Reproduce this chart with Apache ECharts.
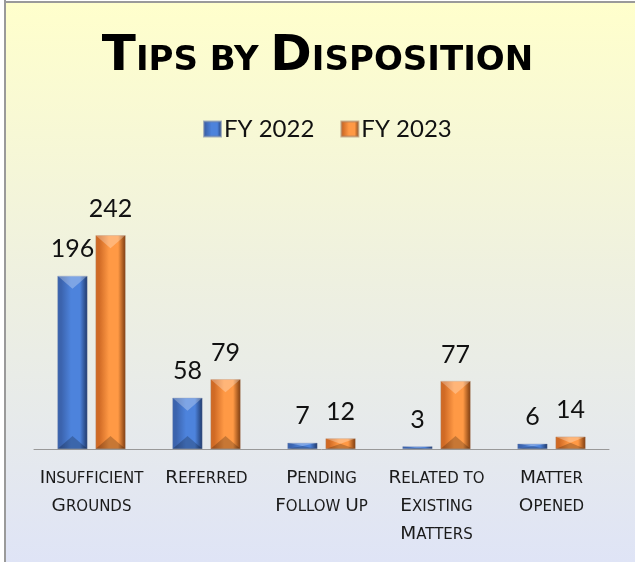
<!DOCTYPE html>
<html>
<head>
<meta charset="utf-8">
<script src="https://cdn.jsdelivr.net/npm/echarts@6/dist/echarts.min.js"></script>
<style>
html,body{margin:0;padding:0;background:#fff;}
#c{width:635px;height:562px;}
</style>
</head>
<body>
<div id="c"></div>
<script>
const categories = ['Insufficient Grounds', 'Referred', 'Pending Follow Up', 'Related to Existing Matters', 'Matter Opened'];
const labelLines = [['Insufficient', 'Grounds'], ['Referred'], ['Pending', 'Follow Up'], ['Related to', 'Existing', 'Matters'], ['Matter', 'Opened']];
const seriesNames = ['FY 2022', 'FY 2023'];
const fy2022 = [196, 58, 7, 3, 6];
const fy2023 = [242, 79, 12, 77, 14];
const titleText = 'Tips by Disposition';

const FONT = 'Lato';
const CAPFONT = 'DejaVu Sans';

// convert text to small caps rich string
function smallCaps(str) {
  let out = '';
  let re = /([A-Z]+)|([^A-Z]+)/g, m;
  while ((m = re.exec(str)) !== null) {
    if (m[1]) out += '{b|' + m[1] + '}';
    else out += '{s|' + m[2].toUpperCase() + '}';
  }
  return out;
}

const chart = echarts.init(document.getElementById('c'), null, {renderer: 'canvas'});

function barGrad(left, mid, right) {
  return new echarts.graphic.LinearGradient(0, 0, 1, 0, [
    {offset: 0, color: left},
    {offset: 0.12, color: left},
    {offset: 0.45, color: mid},
    {offset: 0.75, color: mid},
    {offset: 1, color: right}
  ]);
}
const blueFill = barGrad('#3b63ad', '#4d83dc', '#1f3869');
const orangeFill = barGrad('#d06a25', '#ff9945', '#7a3a0e');

function bevel(idx) {
  return function (params, api) {
    const cat = api.value(0), v = api.value(1);
    const base = api.coord([cat, 0]);
    const top = api.coord([cat, v]);
    const off = idx === 0 ? -19 : 19;
    const w = 30;
    const xc = base[0] + off;
    const x0 = xc - w / 2, x1 = xc + w / 2;
    const yT = top[1], yB = base[1];
    const h = yB - yT;
    const d = Math.min(13, h / 2);
    return {
      type: 'group',
      children: [
        {type: 'polygon', shape: {points: [[x0, yT], [x1, yT], [xc, yT + d]]},
          style: {fill: 'rgba(255,255,255,0.28)'}},
        {type: 'polygon', shape: {points: [[x0, yB], [x1, yB], [xc, yB - d]]},
          style: {fill: 'rgba(0,0,0,0.22)'}}
      ]
    };
  };
}

const option = {
  animation: false,
  textStyle: {fontFamily: FONT},
  graphic: [
    {type: 'rect', left: 5, top: 2, shape: {width: 630, height: 560}, z: -10,
      style: {fill: new echarts.graphic.LinearGradient(0, 0, 0, 1, [
        {offset: 0, color: '#ffffcc'},
        {offset: 0.5, color: '#eef0e0'},
        {offset: 1, color: '#dfe4f6'}
      ]), stroke: null}},
    {type: 'line', shape: {x1: 5, y1: 0, x2: 5, y2: 562}, style: {stroke: '#9a9a9a', lineWidth: 2}, z: -5},
    {type: 'line', shape: {x1: 5, y1: 2, x2: 635, y2: 2}, style: {stroke: '#9a9a9a', lineWidth: 2}, z: -5}
  ],
  title: {
    text: smallCaps(titleText),
    left: 'center',
    top: 19,
    textStyle: {
      fontFamily: CAPFONT,
      fontWeight: 'bold',
      rich: {
        b: {fontSize: 50, fontWeight: 'bold', fontFamily: CAPFONT, color: '#000', verticalAlign: 'bottom', lineHeight: 58},
        s: {fontSize: 34, fontWeight: 'bold', fontFamily: CAPFONT, color: '#000', verticalAlign: 'bottom', lineHeight: 58, padding: [0, 0, 4, 0]}
      }
    }
  },
  legend: {
    data: seriesNames,
    top: 112,
    left: 198,
    itemWidth: 17,
    itemHeight: 15,
    itemGap: 26,
    icon: 'rect',
    textStyle: {fontFamily: FONT, fontSize: 24, color: '#111', padding: [0, 0, 0, -2]}
  },
  grid: {left: 34, right: 26, top: 184, bottom: 113, containLabel: false},
  xAxis: {
    type: 'category',
    data: categories,
    axisLine: {lineStyle: {color: '#999', width: 1}},
    axisTick: {show: false},
    axisLabel: {
      interval: 0,
      margin: 11,
      lineHeight: 28,
      color: '#1a1a1a',
      formatter: function (val, i) {
        return labelLines[i].map(smallCaps).join('\n');
      },
      rich: {
        b: {fontSize: 18.5, fontFamily: CAPFONT, color: '#1a1a1a', lineHeight: 28, verticalAlign: 'bottom'},
        s: {fontSize: 15, fontFamily: CAPFONT, color: '#1a1a1a', lineHeight: 28, verticalAlign: 'bottom', padding: [0, 0, 1, 0]}
      }
    }
  },
  yAxis: {type: 'value', min: 0, max: 300, show: false, splitLine: {show: false}},
  series: [
    {
      name: seriesNames[0], type: 'bar', data: fy2022, barWidth: 30, barGap: '27%',
      itemStyle: {color: blueFill, borderColor: 'rgba(110,130,170,0.6)', borderWidth: 0.6},
      label: {show: true, position: 'top', distance: 14, fontSize: 25, fontFamily: FONT, color: '#111'}
    },
    {
      name: seriesNames[1], type: 'bar', data: fy2023, barWidth: 30, barGap: '27%',
      itemStyle: {color: orangeFill, borderColor: 'rgba(170,130,100,0.6)', borderWidth: 0.6},
      label: {show: true, position: 'top', distance: 14, fontSize: 25, fontFamily: FONT, color: '#111'}
    },
    {
      type: 'custom', name: 'bevel0', silent: true, z: 5,
      renderItem: bevel(0), encode: {x: 0, y: 1},
      data: fy2022.map((v, i) => [i, v])
    },
    {
      type: 'custom', name: 'bevel1', silent: true, z: 5,
      renderItem: bevel(1), encode: {x: 0, y: 1},
      data: fy2023.map((v, i) => [i, v])
    }
  ]
};
chart.setOption(option);
</script>
</body>
</html>
